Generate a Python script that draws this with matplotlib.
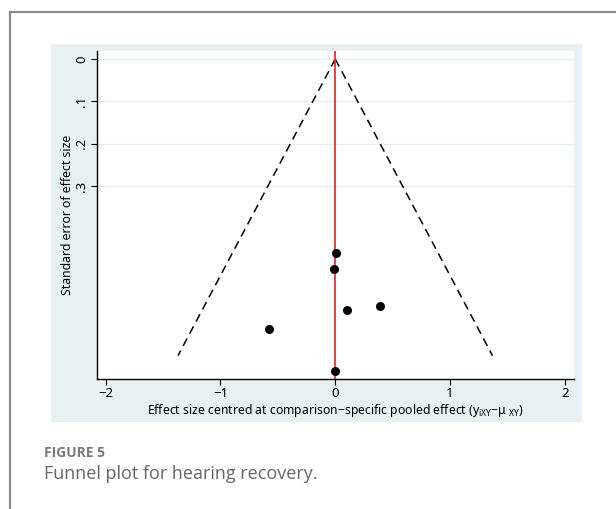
import numpy as np
import matplotlib.pyplot as plt
from matplotlib.patches import Rectangle
from matplotlib.lines import Line2D

# values
effect = [0.01, -0.01, 0.106, 0.386, -0.575, 0.0]
se = [0.456, 0.494, 0.592, 0.583, 0.636, 0.735]
se_max = 0.699  # bottom of the funnel
xticks = [-2, -1, 0, 1, 2]
yticks = [0, 0.1, 0.2, 0.3]
ytick_labels = ['0', '.1', '.2', '.3']

W, H = 616, 509
fig = plt.figure(figsize=(W / 100, H / 100), dpi=100)
plt.rcParams['font.family'] = ['Noto Sans', 'DejaVu Sans']

def fx(px):
    return px / W

def fy(py):
    return 1 - py / H

# card border (left and top only visible)
fig.add_artist(Line2D([fx(9.5), fx(9.5)], [0, fy(12)], color='#8c8c8c', lw=1.6))
fig.add_artist(Line2D([fx(9.5), 1], [fy(12), fy(12)], color='#8c8c8c', lw=1.6))

# stata graph region
fig.add_artist(Rectangle((fx(51), fy(422)), fx(581.5 - 51), (422 - 44) / H,
                         facecolor='#e9f0f2', edgecolor='none', zorder=0))

ax = fig.add_axes([fx(96.5), fy(379), fx(574 - 96.5), (379 - 51) / H])
ax.set_facecolor('white')
ax.set_xlim(-2.08, 2.08)
ax.set_ylim(0.754, -0.019)

for v in yticks:
    ax.axhline(v, color='#e6efef', lw=1.0, zorder=1)

# funnel lines
ax.plot([0, -1.96 * se_max], [0, se_max], color='black', lw=1.1, dashes=(5.5, 3.5), zorder=2)
ax.plot([0, 1.96 * se_max], [0, se_max], color='black', lw=1.1, dashes=(5.5, 3.5), zorder=2)
ax.axvline(0, color='#e8312b', lw=1.3, zorder=3)

ax.scatter(effect, se, s=30, color='black', zorder=4)

ax.set_xticks(xticks)
ax.set_xticklabels(['\u22122', '\u22121', '0', '1', '2'], fontsize=9.5)
ax.set_yticks(yticks)
ax.set_yticklabels(ytick_labels, fontsize=9.5, rotation=90, va='center')
ax.tick_params(axis='both', length=4, width=0.8, color='black', pad=2)

for s in ['top', 'right']:
    ax.spines[s].set_visible(False)
for s in ['left', 'bottom']:
    ax.spines[s].set_color('black')
    ax.spines[s].set_linewidth(1.0)

ax.set_xlabel('Effect size centred at comparison\u2212specific pooled effect '
              '(y$_{\\mathregular{iXY}}$\u2212\u03bc$_{\\ \\mathregular{XY}}$)',
              fontsize=8.8, labelpad=1)
ax.set_ylabel('Standard error of effect size', fontsize=8.8, labelpad=1)

# caption
fig.text(fx(43.5), fy(453), 'FIGURE 5', fontsize=10, fontweight='bold', color='#7a7a7a',
         va='center', ha='left', family=['Open Sans', 'DejaVu Sans'])
fig.text(fx(43.5), fy(474), 'Funnel plot for hearing recovery.', fontsize=13, color='#666666',
         va='center', ha='left', family=['Open Sans', 'DejaVu Sans'])

fig.savefig('out.png', dpi=100)
